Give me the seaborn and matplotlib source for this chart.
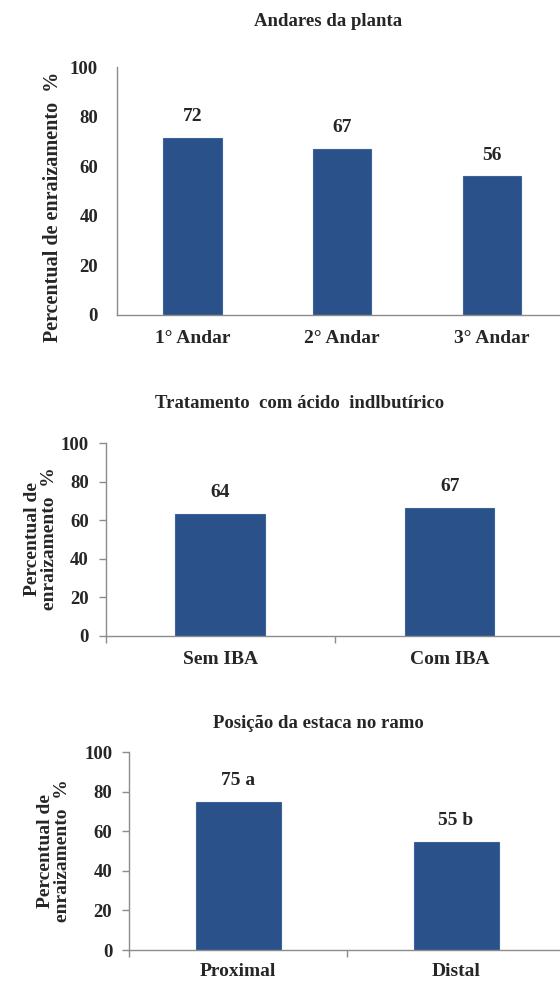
import matplotlib
matplotlib.use("Agg")
import matplotlib.pyplot as plt
import seaborn as sns
from matplotlib.ticker import FixedLocator

# Dados
andares = ["1° Andar", "2° Andar", "3° Andar"]
andares_valores = [71.5, 67, 56]
andares_rotulos = ["72", "67", "56"]

tratamentos = ["Sem IBA", "Com IBA"]
tratamentos_valores = [63.3, 66.5]
tratamentos_rotulos = ["64", "67"]

posicoes = ["Proximal", "Distal"]
posicoes_valores = [74.8, 54.8]
posicoes_rotulos = ["75 a", "55 b"]

titulos = ["Andares da planta",
           "Tratamento  com ácido  indlbutírico",
           "Posição da estaca no ramo"]

sns.set_style("white")
plt.rcParams["font.family"] = ["Liberation Serif", "DejaVu Serif"]
plt.rcParams["font.weight"] = "bold"

cor_barra = "#2A5189"
cor_eixo = "#8C8C8C"

fig = plt.figure(figsize=(5.6, 9.81), dpi=100)

# posicoes dos eixos em fracao da figura
ax1 = fig.add_axes([0.2098, 0.6789, 0.8027, 0.2528])
ax2 = fig.add_axes([0.1884, 0.3517, 0.8196, 0.1967])
ax3 = fig.add_axes([0.2304, 0.0316, 0.7786, 0.2018])


def desenha(ax, cats, vals, rotulos, com_ticks, pad_x=11):
    sns.barplot(x=cats, y=vals, ax=ax, color=cor_barra, width=0.39,
                edgecolor="#3C649C", linewidth=0.8, saturation=1)
    ax.set_ylim(0, 100)
    ax.set_xlim(-0.5, len(cats) - 0.5)
    ax.set_yticks([0, 20, 40, 60, 80, 100])
    ax.bar_label(ax.containers[0], labels=rotulos, padding=9,
                 fontsize=14, fontweight="bold")
    for lado in ["top", "right"]:
        ax.spines[lado].set_visible(False)
    for lado in ["left", "bottom"]:
        ax.spines[lado].set_color(cor_eixo)
        ax.spines[lado].set_linewidth(1.0)
    ax.set_xlabel("")
    ax.set_ylabel("")
    for t in ax.get_xticklabels() + ax.get_yticklabels():
        t.set_fontweight("bold")
    ax.tick_params(axis="x", which="major", length=0, labelsize=14, pad=pad_x)
    if com_ticks:
        ax.tick_params(axis="y", length=5, width=1, color=cor_eixo,
                       labelsize=13.5, pad=7, left=True)
        ax.xaxis.set_minor_locator(FixedLocator(
            [i - 0.5 for i in range(len(cats) + 1)]))
        ax.tick_params(axis="x", which="minor", length=5, width=1,
                       color=cor_eixo, bottom=True)
    else:
        ax.tick_params(axis="y", length=0, labelsize=13.5, pad=14)


desenha(ax1, andares, andares_valores, andares_rotulos, False)
desenha(ax2, tratamentos, tratamentos_valores, tratamentos_rotulos, True)
desenha(ax3, posicoes, posicoes_valores, posicoes_rotulos, True, pad_x=9)

# titulos
fig.text(328 / 560, 1 - 22 / 981, titulos[0], ha="center", va="center",
         fontsize=13.5, fontweight="bold")
fig.text(300 / 560, 1 - 403 / 981, titulos[1], ha="center", va="center",
         fontsize=13.5, fontweight="bold")
fig.text(318 / 560, 1 - 723 / 981, titulos[2], ha="center", va="center",
         fontsize=13.5, fontweight="bold")

# rotulos do eixo y
fig.text(53 / 560, 1 - 207 / 981, "Percentual de enraizamento  %",
         rotation=90, ha="center", va="center", fontsize=14.5, fontweight="bold")
fig.text(41 / 560, 1 - 539 / 981, "Percentual de\nenraizamento  %",
         rotation=90, ha="center", va="center", fontsize=14,
         fontweight="bold", multialignment="center", linespacing=1.0)
fig.text(54 / 560, 1 - 851 / 981, "Percentual de\nenraizamento  %",
         rotation=90, ha="center", va="center", fontsize=14,
         fontweight="bold", multialignment="center", linespacing=1.0)

fig.savefig("out.png", dpi=100)
